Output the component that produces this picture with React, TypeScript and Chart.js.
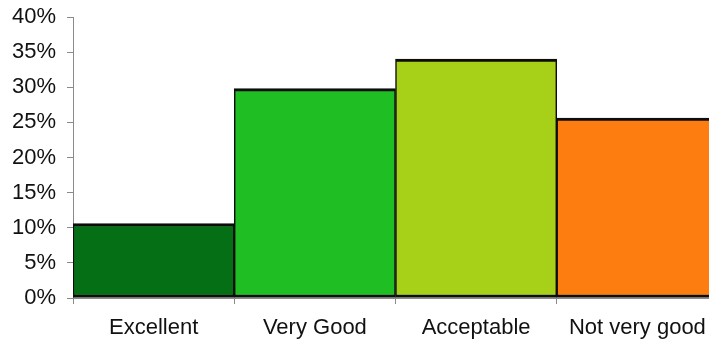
import React, { useEffect, useRef } from "react";
import { Chart, registerables } from "chart.js";

Chart.register(...registerables);

const categories = ["Excellent", "Very Good", "Acceptable", "Not very good"];
const shares = [10.6, 29.8, 34.0, 25.6];
const barColors = ["#046f15", "#1fbe22", "#a7d119", "#fd7d10"];
const yTicks = [0, 5, 10, 15, 20, 25, 30, 35, 40];

const FONT = "'Liberation Sans', Arial, Helvetica, sans-serif";

export default function App() {
  const canvasRef = useRef<HTMLCanvasElement | null>(null);

  useEffect(() => {
    const canvas = canvasRef.current;
    if (!canvas) return;
    const chart = new Chart(canvas, {
      type: "bar",
      data: {
        labels: categories,
        datasets: [
          {
            data: shares,
            backgroundColor: barColors,
            borderColor: "#0d0d0d",
            borderWidth: { top: 3, bottom: 3, left: 1.5, right: 1.5 },
            borderSkipped: false,
            barPercentage: 1,
            categoryPercentage: 1,
          },
        ],
      },
      options: {
        responsive: false,
        animation: false,
        devicePixelRatio: 1,
        layout: { padding: { top: 17, right: 2, left: 0, bottom: 0 } },
        plugins: {
          legend: { display: false },
          tooltip: { enabled: false },
        },
        scales: {
          x: {
            grid: {
              offset: true,
              drawOnChartArea: false,
              drawTicks: true,
              tickLength: 6,
              color: "#8a8a8a",
            },
            border: { display: true, color: "#8a8a8a", width: 1 },
            ticks: {
              color: "#111111",
              font: { family: FONT, size: 22 },
              padding: 11,
              maxRotation: 0,
              autoSkip: false,
            },
            afterFit: (scale: any) => {
              scale.height = 45;
            },
          },
          y: {
            min: 0,
            max: 40,
            afterBuildTicks: (scale: any) => {
              scale.ticks = yTicks.map((v) => ({ value: v }));
            },
            grid: {
              drawOnChartArea: false,
              drawTicks: true,
              tickLength: 6,
              color: "#8a8a8a",
            },
            border: { display: true, color: "#8a8a8a", width: 1 },
            ticks: {
              color: "#111111",
              font: { family: FONT, size: 22 },
              padding: 11,
              callback: (v: any) => `${v}%`,
            },
            afterFit: (scale: any) => {
              scale.width = 73;
              scale.paddingTop = 0;
              scale.paddingBottom = 0;
            },
          },
        },
      },
    });
    return () => chart.destroy();
  }, []);

  return (
    <div
      style={{
        position: "fixed",
        left: 0,
        top: 0,
        width: 709,
        height: 343,
        overflow: "hidden",
        background: "#ffffff",
      }}
    >
      <canvas ref={canvasRef} width={720} height={343} style={{ display: "block" }} />
    </div>
  );
}
